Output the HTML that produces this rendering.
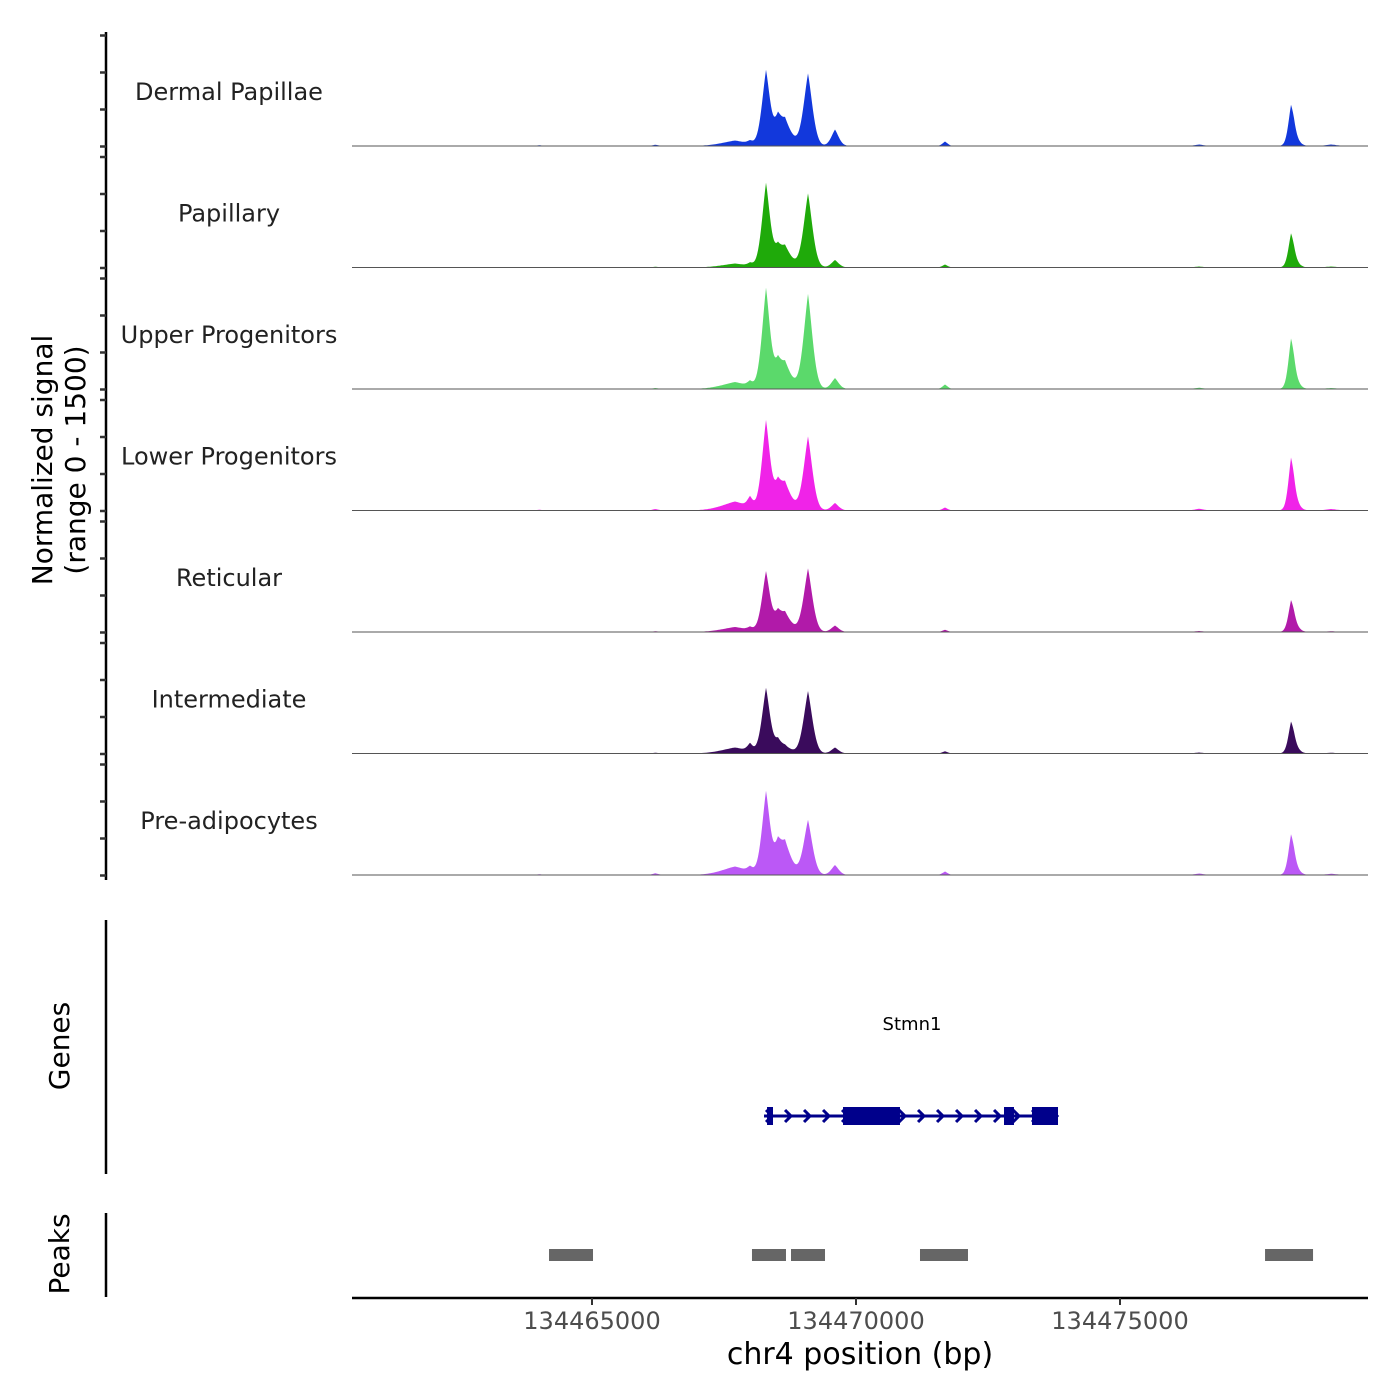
<!DOCTYPE html>
<html><head><meta charset="utf-8"><style>
html,body{margin:0;padding:0;background:#fff;}
svg{display:block;font-family:"DejaVu Sans","Liberation Sans",sans-serif;}
</style></head><body>
<svg id="chart" width="1400" height="1400" viewBox="0 0 1400 1400" xmlns="http://www.w3.org/2000/svg">
<g id="tracks"></g>
<g id="axes"></g>
<g id="genes"></g>
<g id="peaks"></g>
</svg>
<script>
const trackNames = ["Dermal Papillae","Papillary","Upper Progenitors","Lower Progenitors","Reticular","Intermediate","Pre-adipocytes"];
const trackColors = ["#1238dc","#1faa0a","#5bd96b","#f023e8","#b11aa9","#3a0b5c","#bb58f6"];
// peak centers in bp and widths in bp
const peakCenters = [134468296,134469091,134468655,134468523,134469602,134467708,134467993,134471686,134478239,134478290,134476500,134464000,134466200,134479000];
const peakWidths  = [110,120,160,90,100,350,70,70,70,110,120,80,80,150];
const sigDP  = [1500,1450,520,380,330,110,60,90,650,250,30,15,25,30];
const sigPap = [1680,1480,420,250,150,80,60,60,560,180,20,10,15,20];
const sigUp  = [2000,1900,520,350,220,140,100,90,800,300,25,10,20,20];
const sigLow = [1780,1480,540,350,150,180,200,60,850,300,35,15,30,30];
const sigRet = [1200,1270,380,250,130,100,60,45,500,200,20,10,15,15];
const sigInt = [1300,1250,150,200,120,120,150,45,500,200,20,10,15,15];
const sigPre = [1650,1100,650,400,200,170,100,70,640,250,30,15,35,25];
const trackSignals = [sigDP,sigPap,sigUp,sigLow,sigRet,sigInt,sigPre];
const xTicks = [134465000,134470000,134475000];
const peakStarts = [134464186,134468030,134468769,134471212,134477747];
const peakEnds   = [134465019,134468674,134469413,134472121,134478656];
const exonStarts = [134468315,134469754,134472803,134473333];
const exonEnds   = [134468428,134470833,134472992,134473826];
const geneStart = 134468258, geneEnd = 134473826;

const NS="http://www.w3.org/2000/svg";
const x = bp => 592 + (bp-134465000)*264/5000;
const xMin=352, xMax=1368, panelH=121.5, firstBase=146;
const yScale = v => v*0.05;
function mk(tag,attrs,parent){const e=document.createElementNS(NS,tag);for(const k in attrs)e.setAttribute(k,attrs[k]);parent.appendChild(e);return e;}
const tracks=document.getElementById('tracks');
trackNames.forEach((name,i)=>{
  const base=firstBase+i*panelH;
  const sig=trackSignals[i];
  let d=`M${xMin},${base}`;
  for(let px=xMin;px<=xMax;px+=1){
    const bp=134465000+(px-592)*5000/264;
    let v=0;
    for(let k=0;k<peakCenters.length;k++){const t=Math.abs(bp-peakCenters[k])/peakWidths[k];v+=sig[k]*Math.exp(-t*t*0.5-t*0.5);}
    const h=Math.min(yScale(v),115);
    d+=` L${px},${(base-h).toFixed(1)}`;
  }
  d+=` L${xMax},${base} Z`;
  const p=mk('path',{d:d,fill:trackColors[i]},tracks);
  
  
  const bl=mk('line',{x1:xMin,x2:xMax,y1:base,y2:base,stroke:'#555','stroke-width':1},tracks);
  
  
  const lb=mk('text',{x:229,y:base-46,'text-anchor':'middle','font-size':24,fill:'#222'},tracks);
  lb.textContent=name;
  
  
});
const axes=document.getElementById('axes');
mk('line',{x1:106,x2:106,y1:32,y2:880,stroke:'#000','stroke-width':2.5},axes);
for(let i=0;i<7;i++){for(let j=0;j<4;j++){const y=35.5+i*panelH+j*37;mk('line',{x1:100,x2:106,y1:y,y2:y,stroke:'#333','stroke-width':2.5},axes);}}
const yt=mk('text',{transform:'translate(52,460) rotate(-90)','text-anchor':'middle','font-size':28,fill:'#000'},axes);
yt.innerHTML='<tspan x="0" dy="0">Normalized signal</tspan><tspan x="0" dy="33">(range 0 - 1500)</tspan>';


mk('line',{x1:106,x2:106,y1:920,y2:1174,stroke:'#000','stroke-width':2.5},axes);
mk('line',{x1:106,x2:106,y1:1213,y2:1297,stroke:'#000','stroke-width':2.5},axes);
const gt=mk('text',{transform:'translate(69,1046) rotate(-90)','text-anchor':'middle','font-size':28},axes);gt.textContent='Genes';


const pt=mk('text',{transform:'translate(69,1254) rotate(-90)','text-anchor':'middle','font-size':28},axes);pt.textContent='Peaks';


mk('line',{x1:352,x2:1368,y1:1298,y2:1298,stroke:'#000','stroke-width':2.5},axes);
xTicks.forEach(t=>{
  mk('line',{x1:x(t),x2:x(t),y1:1298,y2:1305,stroke:'#333','stroke-width':2},axes);
  const tx=mk('text',{x:x(t),y:1329,'text-anchor':'middle','font-size':24,fill:'#4d4d4d'},axes);tx.textContent=t;
  
  
});
const xt=mk('text',{x:860,y:1364,'text-anchor':'middle','font-size':30},axes);xt.textContent='chr4 position (bp)';


const genes=document.getElementById('genes');
const gl=mk('text',{x:912,y:1030,'text-anchor':'middle','font-size':18},genes);gl.textContent='Stmn1';


mk('line',{x1:x(geneStart),x2:x(geneEnd),y1:1116,y2:1116,stroke:'#00008b','stroke-width':3},genes);
for(let px=x(geneStart)+6;px<x(geneEnd);px+=19){mk('path',{d:`M${px-4},${1110} L${px+2},1116 L${px-4},1122`,fill:'none',stroke:'#00008b','stroke-width':3},genes);}
exonStarts.forEach((s,k)=>{
  const r=mk('rect',{x:x(s),y:1107,width:x(exonEnds[k])-x(s),height:18,fill:'#00008b'},genes);
  
  
});
const peaks=document.getElementById('peaks');
peakStarts.forEach((s,k)=>{
  const r=mk('rect',{x:x(s),y:1249,width:x(peakEnds[k])-x(s),height:12,fill:'#666'},peaks);
  
  
});
</script>
</body></html>
